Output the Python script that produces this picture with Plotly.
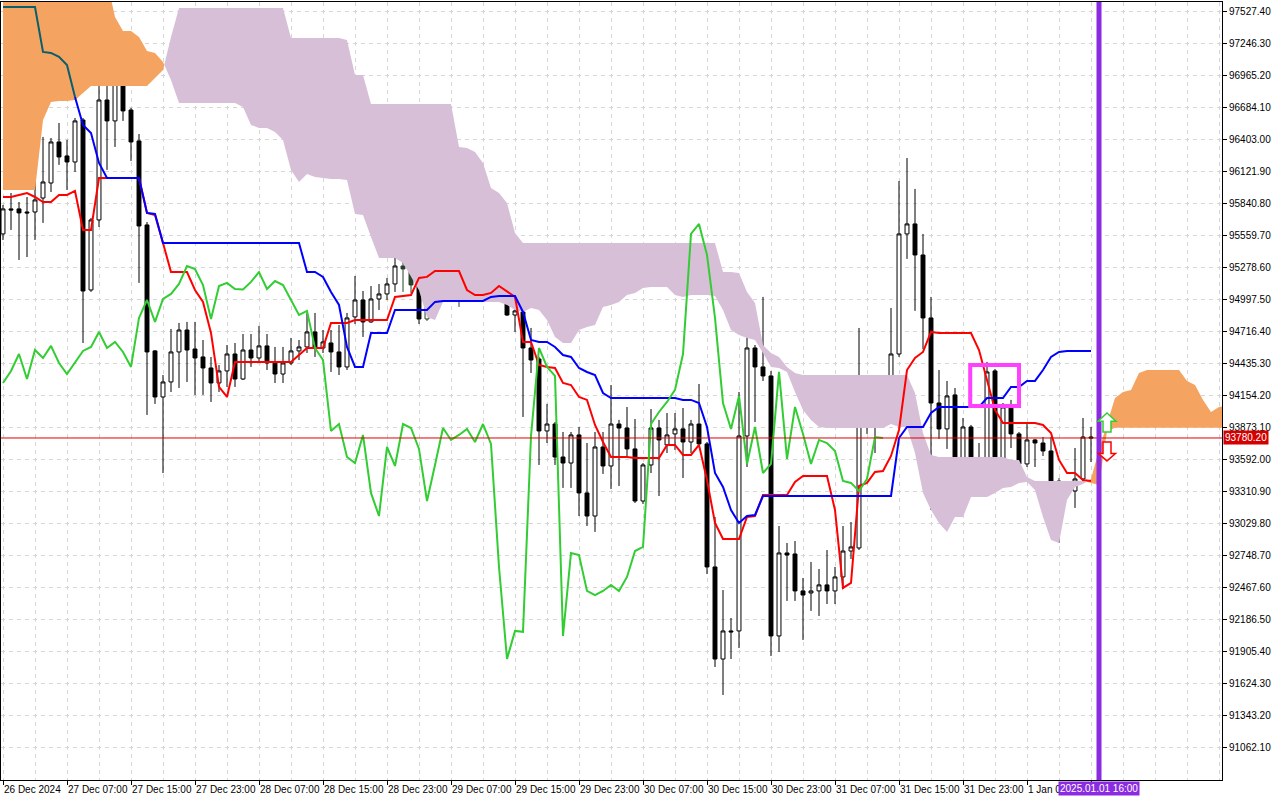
import pandas as pd
import plotly.graph_objects as go

# BTCUSD H1 with Ichimoku (9, 26, 52), first bar 26 Dec 2024 23:00
start = pd.Timestamp('2024-12-26 23:00')

open_ = [
    95575, 95795, 95795, 95768, 95768, 95891, 96023, 96384, 96261, 96208,
    96577, 95082, 95698, 96753, 96569, 96912, 96665, 96393, 95654, 94546,
    94141, 94273, 94537, 94730, 94563, 94493, 94396, 94264, 94370, 94519,
    94299, 94554, 94484, 94590, 94440, 94343, 94440, 94546, 94581, 94713,
    94572, 94616, 94537, 94405, 94845, 94994, 94801, 95003, 95047, 95135,
    95293, 95267, 95126, 94827, 95117, 95144, 95091, 95091, 95153, 95240,
    95091, 95153, 95126, 94994, 94862, 94889, 94572, 94475, 93842, 93903,
    93613, 93560, 93807, 93297, 93094, 93701, 93534, 93903, 93868, 93684,
    93226, 93543, 93868, 93719, 93816, 93860, 93745, 93903, 93728, 92646,
    91836, 92083, 92083, 93798, 94572, 94405, 94326, 92039, 92769, 92760,
    92435, 92417, 92435, 92488, 92435, 92558, 92786, 92813, 93903, 94009,
    94097, 94203, 94519, 95575, 95663, 95390, 94836, 94088, 93860, 94159,
    93552, 93877, 93472, 93552, 94370, 93596, 94053, 93816, 93552, 93763,
    93736, 93666, 93402, 93393, 93314, 93420, 93789]
high = [
    95830, 95935, 95856, 95900, 96226, 96428, 96419, 96551, 96402, 96595,
    96595, 95716, 97510, 97000, 97000, 97008, 96683, 96454, 95680, 94554,
    94334, 94739, 94792, 94801, 94801, 94642, 94493, 94422, 94598, 94616,
    94695, 94695, 94766, 94695, 94581, 94581, 94660, 94642, 94880, 94880,
    94730, 94730, 94774, 94880, 95205, 95073, 95117, 95135, 95188, 95707,
    95390, 95320, 95144, 95153, 95240, 95232, 95170, 95240, 95267, 95293,
    95223, 95258, 95153, 95003, 94968, 95197, 94748, 94493, 94080, 93921,
    93833, 93833, 93877, 93736, 93833, 93833, 94246, 93939, 94053, 93947,
    93560, 94035, 93939, 94000, 94000, 94044, 93939, 94255, 93745, 93085,
    92443, 92197, 94185, 94678, 94598, 95021, 94370, 93006, 92857, 92874,
    92549, 92690, 92628, 92795, 92646, 93006, 93041, 94748, 94150, 94246,
    94282, 94924, 96041, 96243, 95971, 95575, 95021, 94378, 94282, 94220,
    93956, 93895, 93736, 94449, 94387, 94088, 94115, 93833, 93912, 93772,
    93789, 93789, 93428, 93402, 93692, 93956, 93877]
low = [
    95522, 95610, 95346, 95372, 95522, 95672, 95944, 96182, 95962, 96120,
    94616, 95065, 95636, 96138, 96340, 96569, 96217, 95144, 93983, 94080,
    93472, 94185, 94220, 94273, 94159, 94159, 94097, 94185, 94229, 94229,
    94290, 94405, 94449, 94378, 94264, 94264, 94422, 94466, 94528, 94493,
    94528, 94361, 94334, 94378, 94783, 94669, 94792, 94906, 94994, 95065,
    95065, 95056, 94783, 94810, 94994, 94994, 94994, 94933, 95091, 95056,
    95021, 95021, 94985, 94854, 94713, 93965, 94352, 93543, 93736, 93543,
    93341, 93341, 93094, 93006, 92954, 93464, 93332, 93358, 93613, 93209,
    93200, 93472, 93270, 93648, 93675, 93428, 93648, 93701, 92584, 91766,
    91520, 91836, 91933, 93525, 93921, 94282, 91863, 91898, 92347, 92347,
    92004, 92259, 92215, 92320, 92320, 92452, 92716, 92795, 93816, 93648,
    93965, 94185, 94493, 95355, 94898, 94563, 93147, 93772, 93684, 93428,
    93481, 93349, 93349, 93464, 93552, 93560, 93692, 93508, 93525, 93525,
    93622, 93279, 92857, 93252, 93165, 93385, 93569]
close = [
    95795, 95786, 95760, 95760, 95874, 96032, 96384, 96252, 96208, 96569,
    95073, 95698, 96753, 96569, 96912, 96657, 96384, 95645, 94537, 94141,
    94273, 94537, 94730, 94554, 94484, 94396, 94264, 94370, 94519, 94299,
    94554, 94484, 94590, 94440, 94343, 94440, 94546, 94581, 94713, 94572,
    94625, 94537, 94405, 94836, 94994, 94801, 95003, 95047, 95135, 95293,
    95267, 95126, 94827, 95117, 95144, 95091, 95087, 95153, 95240, 95091,
    95161, 95126, 94994, 94862, 94898, 94572, 94466, 93842, 93903, 93613,
    93560, 93807, 93297, 93094, 93701, 93534, 93903, 93868, 93684, 93226,
    93543, 93868, 93763, 93807, 93860, 93745, 93903, 93728, 92646, 91836,
    92083, 92075, 93798, 94572, 94405, 94326, 92039, 92769, 92751, 92435,
    92399, 92435, 92488, 92435, 92558, 92786, 92822, 93903, 94009, 94097,
    94203, 94519, 95575, 95663, 95390, 94836, 94088, 93860, 94150, 93552,
    93877, 93472, 93552, 94361, 93596, 94053, 93816, 93552, 93763, 93736,
    93666, 93402, 93385, 93314, 93420, 93789, 93780.2]

tenkan = [
    95900, 95900, 95918, 95935, 95900, 95856, 95856, 95918, 95918, 95953,
    95610, 95610, 96067, 96067, 96067, 96067, 96067, 96067, 95760, 95742,
    95496, 95240, 95240, 95240, 95082, 94977, 94704, 94229, 94141, 94449,
    94449, 94449, 94449, 94449, 94449, 94449, 94449, 94510, 94572, 94572,
    94572, 94792, 94792, 94792, 94818, 94818, 94818, 94818, 94818, 95021,
    95029, 95038, 95188, 95197, 95249, 95249, 95249, 95249, 95082, 95038,
    95038, 95056, 95117, 95065, 95021, 94625, 94625, 94422, 94405, 94396,
    94264, 94246, 94141, 94115, 93895, 93745, 93613, 93613, 93613, 93604,
    93604, 93604, 93604, 93719, 93719, 93631, 93631, 93719, 93411, 93033,
    92892, 92892, 92892, 93085, 93094, 93279, 93279, 93279, 93279, 93393,
    93446, 93446, 93446, 93446, 93147, 92461, 92505, 93358, 93385, 93481,
    93490, 93622, 93851, 94378, 94484, 94537, 94713, 94704, 94704, 94704,
    94704, 94704, 94554, 94290, 94027, 93912, 93912, 93912, 93912, 93912,
    93895, 93824, 93587, 93472, 93472, 93411, 93402]
kijun = [
    97571, 97571, 97571, 97571, 97571, 97176, 97167, 97132, 97061, 96780,
    96534, 96463, 96199, 96067, 96067, 96067, 96067, 96067, 95760, 95751,
    95496, 95496, 95496, 95496, 95496, 95496, 95496, 95496, 95496, 95496,
    95496, 95496, 95496, 95496, 95496, 95496, 95496, 95496, 95240, 95240,
    95197, 95065, 94950, 94581, 94405, 94405, 94704, 94704, 94704, 94906,
    94906, 94906, 94906, 94906, 94977, 94985, 94985, 94985, 94985, 94985,
    94985, 95021, 95029, 95029, 95029, 94889, 94642, 94625, 94625, 94581,
    94510, 94493, 94396, 94361, 94334, 94176, 94132, 94132, 94132, 94132,
    94132, 94132, 94132, 94132, 94132, 94115, 94115, 94088, 93877, 93472,
    93349, 93147, 93033, 93094, 93103, 93270, 93270, 93270, 93270, 93270,
    93270, 93270, 93270, 93270, 93270, 93270, 93270, 93270, 93270, 93270,
    93270, 93270, 93780, 93877, 93877, 93877, 94000, 94053, 94053, 94053,
    94053, 94053, 94053, 94132, 94132, 94132, 94229, 94229, 94282, 94282,
    94378, 94493, 94537, 94546, 94546, 94546, 94546]

# cloud spans, already shifted 26 bars forward (runs past the last bar)
senkou_a = [
    97800, 97800, 97800, 97800, 97800, 97800, 97800, 97800, 97800, 97800,
    97800, 97800, 97800, 97800, 97483, 97360, 97360, 97308, 97184, 97167,
    97088, 96929, 96727, 96727, 96727, 96727, 96727, 96727, 96727, 96727,
    96692, 96534, 96507, 96507, 96472, 96402, 96138, 96032, 96103, 96076,
    96067, 96059, 96059, 96050, 95751, 95742, 95548, 95364, 95364, 95364,
    95320, 95197, 95080, 94845, 94818, 94977, 94977, 94977, 94977, 94977,
    94977, 94977, 94977, 94950, 94906, 94889, 94924, 94906, 94818, 94669,
    94616, 94616, 94730, 94757, 94774, 94933, 94950, 94977, 95038, 95056,
    95100, 95109, 95109, 95109, 95038, 95021, 95038, 95038, 95038, 95029,
    94906, 94730, 94686, 94660, 94642, 94528, 94405, 94396, 94361, 94185,
    94027, 93939, 93877, 93868, 93868, 93868, 93868, 93868, 93868, 93868,
    93868, 93903, 93877, 93877, 93648, 93297, 93147, 93033, 92954, 93085,
    93085, 93261, 93261, 93261, 93297, 93341, 93349, 93385, 93393, 93323,
    93085, 92883, 92857, 93235, 93349, 93376, 93420, 93675, 93895, 94132,
    94185, 94203, 94352, 94378, 94378, 94378, 94378, 94378, 94282, 94246,
    94115, 94009, 94053, 94062]
senkou_b = [
    95962, 95962, 95962, 95962, 95962, 96577, 96736, 96745, 96745, 96753,
    96815, 96877, 96877, 96877, 96877, 96877, 96877, 96877, 96877, 96947,
    97017, 97308, 97563, 97563, 97563, 97563, 97563, 97563, 97563, 97563,
    97563, 97563, 97563, 97563, 97563, 97563, 97299, 97299, 97299, 97299,
    97299, 97299, 97299, 97281, 96973, 96973, 96718, 96718, 96718, 96718,
    96718, 96718, 96718, 96718, 96718, 96718, 96718, 96340, 96331, 96296,
    96199, 95979, 95935, 95847, 95584, 95496, 95496, 95496, 95496, 95496,
    95496, 95496, 95496, 95496, 95496, 95496, 95496, 95496, 95496, 95496,
    95496, 95496, 95496, 95496, 95496, 95496, 95496, 95496, 95496, 95496,
    95240, 95240, 95232, 95065, 94968, 94598, 94528, 94493, 94405, 94352,
    94334, 94334, 94334, 94334, 94334, 94334, 94334, 94334, 94334, 94334,
    94334, 94334, 94334, 94334, 94176, 93824, 93631, 93613, 93613, 93613,
    93613, 93613, 93613, 93613, 93613, 93613, 93587, 93587, 93437, 93402,
    93402, 93402, 93402, 93402, 93402, 93402, 93385, 93367, 93840, 93870,
    93870, 93870, 93870, 93870, 93870, 93870, 93870, 93870, 93870, 93870,
    93870, 93870, 93870, 93870]

# the last tick (1 Jan 15:00) sits under the vertical-line date label
tick_labels = ['26 Dec 2024', '27 Dec 07:00', '27 Dec 15:00', '27 Dec 23:00',
               '28 Dec 07:00', '28 Dec 15:00', '28 Dec 23:00', '29 Dec 07:00',
               '29 Dec 15:00', '29 Dec 23:00', '30 Dec 07:00', '30 Dec 15:00',
               '30 Dec 23:00', '31 Dec 07:00', '31 Dec 15:00', '31 Dec 23:00',
               '1 Jan 07:00', '']
price_ticks = [91062.1 + 281.1 * k for k in range(24)]

bid = 93780.20
vline_time = '2025-01-01 16:00'
box_times = ['2024-12-31 23:54', '2025-01-01 06:00']
box_prices = [94422, 94062]
arrow_time = '2025-01-01 17:00'
buy_arrow_price = 93917
sell_arrow_price = 93662
# bars whose black parts sit inside the thistle cloud (drawn dark green by MT5)
cloud_shade = [50, 51, 53, 54, 55, 56, 57, 58, 59, 60, 61, 62, 132, 133]

bars = pd.date_range(start, periods=len(close), freq='h')


def split_cloud(a, b):
    # add the crossing points so both fills meet exactly
    hx, ya, yb = [0.0], [a[0]], [b[0]]
    for k in range(1, len(a)):
        d0, d1 = a[k - 1] - b[k - 1], a[k] - b[k]
        if d0 * d1 < 0:
            f = d0 / (d0 - d1)
            yc = a[k - 1] + (a[k] - a[k - 1]) * f
            hx.append(k - 1 + f)
            ya.append(yc)
            yb.append(yc)
        hx.append(float(k))
        ya.append(a[k])
        yb.append(b[k])
    top = [max(p, q) for p, q in zip(ya, yb)]
    xs = [start + pd.Timedelta(hours=h) for h in hx]
    return xs, ya, yb, top


def candles(idx, edge, bear):
    return go.Candlestick(
        x=[bars[k] for k in idx], open=[open_[k] for k in idx],
        high=[high[k] for k in idx], low=[low[k] for k in idx],
        close=[close[k] for k in idx],
        increasing=dict(fillcolor='white', line=dict(color=edge, width=1)),
        decreasing=dict(fillcolor=bear, line=dict(color=edge, width=1)),
        whiskerwidth=0, hoverinfo='skip', showlegend=False)


fig = go.Figure()

xs, ya, yb, top = split_cloud(senkou_a, senkou_b)
fig.add_trace(go.Scatter(x=xs, y=yb, mode='lines', line=dict(width=0), hoverinfo='skip'))
fig.add_trace(go.Scatter(x=xs, y=top, mode='lines', line=dict(width=0), fill='tonexty',
                         fillcolor='#F4A460', hoverinfo='skip'))
fig.add_trace(go.Scatter(x=xs, y=ya, mode='lines', line=dict(width=0), hoverinfo='skip'))
fig.add_trace(go.Scatter(x=xs, y=top, mode='lines', line=dict(width=0), fill='tonexty',
                         fillcolor='#D8BFD8', hoverinfo='skip'))

plain = [k for k in range(len(close)) if k not in cloud_shade]
fig.add_trace(candles(plain, 'black', 'black'))
fig.add_trace(candles(cloud_shade, '#27402A', '#27402A'))

fig.add_trace(go.Scatter(x=bars, y=tenkan, mode='lines', line=dict(color='#FF0000', width=2),
                         hoverinfo='skip'))
fig.add_trace(go.Scatter(x=bars[9:], y=kijun[9:], mode='lines', line=dict(color='#0000FF', width=2),
                         hoverinfo='skip'))
fig.add_trace(go.Scatter(x=bars[:10], y=kijun[:10], mode='lines', line=dict(color='#0B5E6B', width=2),
                         hoverinfo='skip'))
fig.add_trace(go.Scatter(x=bars[:len(close) - 26], y=close[26:], mode='lines',
                         line=dict(color='#32CD32', width=2), hoverinfo='skip'))

fig.add_hline(y=bid, line=dict(color='#E00000', width=1))
fig.add_vline(x=vline_time, line=dict(color='#8A2BE2', width=5))
fig.add_shape(type='rect', x0=box_times[0], x1=box_times[1], y0=box_prices[0], y1=box_prices[1],
              line=dict(color='#FF40FF', width=4))
fig.add_shape(type='path', xref='x', yref='y', xsizemode='pixel', ysizemode='pixel',
              xanchor=arrow_time, yanchor=buy_arrow_price,
              path='M0,9.5 L9,1.2 L4,1.2 L4,-9.5 L-4,-9.5 L-4,1.2 L-9,1.2 Z',
              line=dict(color='#32CD32', width=1.5), fillcolor='white')
fig.add_shape(type='path', xref='x', yref='y', xsizemode='pixel', ysizemode='pixel',
              xanchor=arrow_time, yanchor=sell_arrow_price,
              path='M0,-9.5 L8.5,-2.1 L4,-2.1 L4,9.5 L-4,9.5 L-4,-2.1 L-8.5,-2.1 Z',
              line=dict(color='#FF0000', width=1.5), fillcolor='white')

fig.add_annotation(x=vline_time, xref='x', y=0, yref='paper', yanchor='top', yshift=-1,
                   text='2025.01.01 16:00', showarrow=False, bgcolor='#8A2BE2',
                   font=dict(color='white', size=10), borderpad=1)
fig.add_annotation(x=1, xref='paper', xanchor='left', xshift=1, y=bid, yref='y',
                   text='%.2f' % bid, showarrow=False, bgcolor='#D40000',
                   font=dict(color='white', size=10), borderpad=1)

grid = dict(showgrid=True, gridcolor='#D6D6D6', griddash='4px,4px', gridwidth=1)
fig.update_xaxes(
    type='date',
    range=[start - pd.Timedelta(minutes=15), start + pd.Timedelta(hours=152.375)],
    tickmode='array', tickvals=list(bars[::8]), ticktext=tick_labels, tickangle=0,
    ticks='outside', ticklen=4, tickcolor='black', ticklabelposition='outside right',
    showline=True, linecolor='black', linewidth=1, mirror=True, automargin=False,
    minor=dict(tickvals=[start + pd.Timedelta(hours=4 * k) for k in range(39)], ticks='',
               showgrid=True, gridcolor='#D6D6D6', griddash='4px,4px'),
    rangeslider_visible=False, fixedrange=True, **grid)
fig.update_yaxes(
    side='right', range=[90772, 97615], tickmode='array', tickvals=price_ticks,
    ticktext=['%.2f' % v for v in price_ticks], ticks='outside', ticklen=4, tickcolor='black',
    showline=True, linecolor='black', linewidth=1, mirror=True, zeroline=False,
    automargin=False, fixedrange=True, **grid)
fig.update_layout(
    width=1280, height=800, margin=dict(l=1, r=58, t=2, b=20, autoexpand=False),
    paper_bgcolor='white', plot_bgcolor='white', showlegend=False,
    font=dict(family='Liberation Sans', size=10, color='black'))

# drop the browser's default 8px page margin so the chart fills the window
fig.write_html('out.html', config={'displayModeBar': False},
               post_script="document.body.style.margin='0';")
